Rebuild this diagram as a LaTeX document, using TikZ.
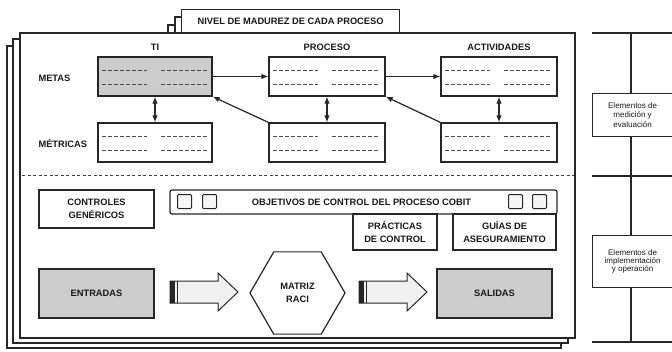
\documentclass[tikz,border=0pt]{standalone}
\usepackage{fontspec}
\setmainfont{Liberation Sans}
\usetikzlibrary{shapes.geometric,calc,arrows.meta}
\newcommand\dashrows[1]{%
  \foreach \yy in {14,28}{%
    \draw[dl] ($(#1.north west)+(5,\yy)$) -- ++(45,0);
    \draw[dl] ($(#1.north west)+(64,\yy)$) -- ++(46,0);}}
\newcommand\blockarrow[2]{% left x, center y
  \draw[ln, line width=1pt, fill=black!6] (#1,#2-11) -- ++(48,0) -- ++(0,-8) -- ++(20,19) -- ++(-20,19) -- ++(0,-8) -- ++(-48,0) -- cycle;
  \fill[black!85] (#1,#2-11) rectangle ++(4.5,22);
  \draw[black!85, line width=1pt] (#1+7.5,#2-11) -- ++(0,22);}
\begin{document}
\begin{tikzpicture}[x=1pt,y=-1pt,
  ln/.style={draw=black!85, line width=1.2pt},
  box/.style={ln, fill=white, inner sep=0pt},
  graybox/.style={box, fill=black!20},
  hdr/.style={font=\bfseries\fontsize{9.3}{11}\selectfont, text=black!90},
  two/.style={align=center, font=\bfseries\fontsize{9.3}{13.5}\selectfont, text=black!90},
  side/.style={align=center, font=\fontsize{8}{9.5}\selectfont, text=black!90},
  dl/.style={black!70, line width=1.1pt, dash pattern=on 4pt off 2pt},
  arr/.style={ln, -{Latex[length=7pt,width=5.5pt]}},
  darr/.style={ln, {Latex[length=7pt,width=5.5pt]}-{Latex[length=7pt,width=5.5pt]}},
  sq/.style={draw=black!85, line width=1pt, fill=black!4, minimum size=14pt, inner sep=0pt, rounded corners=1pt},
]
\useasboundingbox (0,0) rectangle (672,351);
% stacked pages and tabs
\draw[ln, fill=white] (168,25) rectangle (386,46);
\draw[ln, fill=white] (7,46) rectangle (561,348);
\draw[ln, fill=white] (175,17) rectangle (393,39);
\draw[ln, fill=white] (13,39) rectangle (568,343);
\node[box, minimum width=218pt, minimum height=24pt, anchor=north west] (tab) at (181,9) {};
\node[hdr] at (tab.center) {NIVEL DE MADUREZ DE CADA PROCESO};
\draw[ln, fill=white] (20,33) rectangle (575,338);
% column headers
\node[hdr] (hti) at (155,47) {TI};
\node[hdr] (hpr) at (327,47) {PROCESO};
\node[hdr] (hac) at (499,47) {ACTIVIDADES};
\node[hdr, anchor=west] (rme) at (35,78) {METAS};
\node[hdr, anchor=west] (rmt) at (35,143) {MÉTRICAS};
% boxes
\node[graybox, minimum width=114pt, minimum height=39pt] (tim) at (155,76.5) {};
\node[box, minimum width=114pt, minimum height=39pt] (tit) at (155,142.5) {};
\node[box, minimum width=116pt, minimum height=39pt] (prm) at (327,76.5) {};
\node[box, minimum width=116pt, minimum height=39pt] (prt) at (327,142.5) {};
\node[box, minimum width=116pt, minimum height=39pt] (acm) at (499,76.5) {};
\node[box, minimum width=116pt, minimum height=39pt] (act) at (499,142.5) {};
\dashrows{tim}\dashrows{tit}\dashrows{prm}\dashrows{prt}\dashrows{acm}\dashrows{act}
% connectors
\draw[arr] (tim) -- (prm);
\draw[arr] (prm) -- (acm);
\draw[darr] (tim) -- (tit);
\draw[darr] (prm) -- (prt);
\draw[darr] (acm) -- (act);
\draw[arr] (prt.north west) -- (tim.south east);
\draw[arr] (act.north west) -- (prm.south east);
% separator
\draw[black!75, line width=1pt, dash pattern=on 3pt off 2.5pt] (22,175) -- (574,175);
% lower part
\node[box, two, minimum width=115pt, minimum height=38pt] (cg) at (96.5,209) {CONTROLES\\GENÉRICOS};
\node[box, minimum width=387pt, minimum height=24pt, rounded corners=2pt] (obj) at (363.5,202) {};
\node[hdr] at (361.5,202) {OBJETIVOS DE CONTROL DEL PROCESO COBIT};
\node[sq] (s1) at (184.5,201.5) {};
\node[sq] (s2) at (209.5,201.5) {};
\node[sq] (s3) at (515.5,201.5) {};
\node[sq] (s4) at (539.5,201.5) {};
\node[box, two, minimum width=84pt, minimum height=36pt] (pc) at (395,232) {PRÁCTICAS\\DE CONTROL};
\node[box, two, minimum width=103pt, minimum height=36pt] (ga) at (504.5,232) {GUÍAS DE\\ASEGURAMIENTO};
\node[graybox, hdr, minimum width=115pt, minimum height=49pt] (ent) at (96.5,293.5) {ENTRADAS};
\node[graybox, hdr, minimum width=115pt, minimum height=49pt] (sal) at (494.5,293.5) {SALIDAS};
\node[ln, fill=white, two, regular polygon, regular polygon sides=6, minimum size=95pt, inner sep=0pt] (raci) at (297.5,293) {MATRIZ\\RACI};
\blockarrow{170}{292}
\blockarrow{359}{292}
% right side
\draw[ln] (631,33) -- (631,342);
\draw[ln] (592,33) -- (673,33);
\draw[ln] (592,176) -- (673,176);
\draw[ln] (592,342) -- (673,342);
\node[box, side, minimum width=80pt, minimum height=43pt, anchor=north west] (med) at (592,93) {Elementos de\\medición y\\evaluación};
\node[box, side, font=\fontsize{8}{8.2}\selectfont, minimum width=80pt, minimum height=52pt, anchor=north west] (imp) at (592,235) {Elementos de\\implementación\\y operación};
\end{tikzpicture}
\end{document}
